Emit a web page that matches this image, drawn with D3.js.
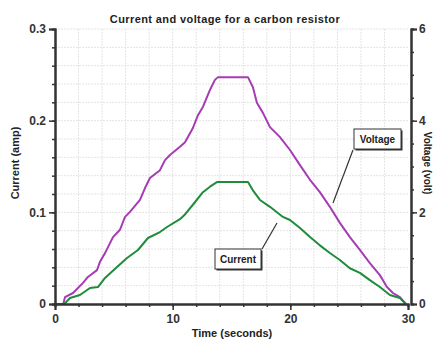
<!DOCTYPE html>
<html><head><meta charset="utf-8">
<script src="https://cdn.jsdelivr.net/npm/d3@7"></script>
<style>
body{margin:0;background:#fff;}
svg{display:block;font-family:"Liberation Sans",Arial,sans-serif;}
</style></head>
<body><svg id="c" width="435" height="339"></svg>
<script>
const title = "Current and voltage for a carbon resistor";
const xLabel = "Time (seconds)";
const yLabel = "Current (amp)";
const y2Label = "Voltage (volt)";
const xTicks = [0, 10, 20, 30];
const yTicks = [0, 0.1, 0.2, 0.3];
const y2Ticks = [0, 2, 4, 6];

const voltageT = [0,0.7,0.85,1.53,2.38,2.8,3.57,3.82,4.25,4.93,5.52,5.95,6.37,7.22,7.65,8.07,8.92,9.35,9.77,10.62,11.05,11.72,12.15,12.57,13.17,13.59,13.85,16.4,16.82,17.16,17.67,18.27,19.12,19.97,20.82,21.67,22.51,23.36,24.21,25.06,25.91,26.76,27.61,28.21,28.72,29.31,29.82];
const voltageV = [0,0,0.15,0.24,0.46,0.59,0.74,0.92,1.11,1.46,1.62,1.9,2.01,2.27,2.53,2.75,2.92,3.14,3.25,3.43,3.53,3.84,4.12,4.3,4.67,4.89,4.95,4.95,4.73,4.39,4.17,3.86,3.64,3.36,3.03,2.71,2.44,2.12,1.77,1.46,1.18,0.89,0.63,0.37,0.24,0.15,0];

const currentT = [0.8,1.27,2.12,2.97,3.65,4.25,5.27,6.12,7.05,7.9,8.92,9.52,10.62,11.0,11.89,12.57,13.17,13.76,16.4,16.82,17.42,18.27,19.37,19.97,20.82,21.67,22.51,23.36,24.21,25.06,25.91,26.76,27.61,28.46,29.31,29.82];
const currentI = [0,0.0065,0.0098,0.0175,0.0185,0.0284,0.0404,0.0502,0.0589,0.072,0.0785,0.084,0.0925,0.097,0.111,0.122,0.128,0.133,0.133,0.124,0.1135,0.106,0.095,0.0916,0.083,0.073,0.064,0.0556,0.048,0.039,0.034,0.026,0.0185,0.0098,0.0065,0];

const svg = d3.select("#c");
const L = 55, R = 408, T = 29, B = 304;
const x = d3.scaleLinear().domain([0,30]).range([L,R]);
const y = d3.scaleLinear().domain([0,0.3]).range([B,T]);
const y2 = d3.scaleLinear().domain([0,6]).range([B,T]);

// grid
const g = svg.append("g");
g.selectAll("line.v").data(d3.range(2,30,2)).join("line")
  .attr("x1",d=>x(d)).attr("x2",d=>x(d)).attr("y1",T).attr("y2",B)
  .attr("stroke","#e4e4e4").attr("stroke-width",1).attr("stroke-dasharray","2,1");
g.selectAll("line.h").data(d3.range(0.02,0.301,0.02)).join("line")
  .attr("x1",L).attr("x2",R).attr("y1",d=>y(d)).attr("y2",d=>y(d))
  .attr("stroke","#e4e4e4").attr("stroke-width",1).attr("stroke-dasharray","2,1");

// data lines
const vData = voltageT.map((t,i)=>[t,voltageV[i]]);
const cData = currentT.map((t,i)=>[t,currentI[i]]);
svg.append("path").datum(vData)
  .attr("d", d3.line().x(d=>x(d[0])).y(d=>y2(d[1])))
  .attr("fill","none").attr("stroke","#a63cb4").attr("stroke-width",2).attr("stroke-linejoin","round");
svg.append("path").datum(cData)
  .attr("d", d3.line().x(d=>x(d[0])).y(d=>y(d[1])))
  .attr("fill","none").attr("stroke","#1f8c3c").attr("stroke-width",2).attr("stroke-linejoin","round");

const axCol = "#333";
// left axis
const la = svg.append("g").attr("transform",`translate(${L},0)`);
la.call(d3.axisLeft(y).tickValues(d3.range(0,0.301,0.02)).tickSize(3).tickFormat(""));
la.append("g").call(d3.axisLeft(y).tickValues(yTicks).tickSize(6).tickFormat(d=>d===0?"0":d3.format(".1f")(d)));
la.selectAll(".domain").attr("stroke",axCol).attr("stroke-width",2);
la.selectAll("line").attr("stroke",axCol).attr("stroke-width",1.5);
la.selectAll("text").attr("font-size",12).attr("font-weight","bold").attr("fill","#333").attr("font-family","Liberation Sans, Arial, sans-serif");

// bottom axis
const ba = svg.append("g").attr("transform",`translate(0,${B})`);
ba.call(d3.axisBottom(x).tickValues(d3.range(0,31,2)).tickSize(3).tickFormat(""));
ba.append("g").call(d3.axisBottom(x).tickValues(xTicks).tickSize(6).tickPadding(4).tickFormat(d3.format("d")));
ba.selectAll(".domain").attr("stroke",axCol).attr("stroke-width",2);
ba.selectAll("line").attr("stroke",axCol).attr("stroke-width",1.5);
ba.selectAll("text").attr("font-size",12).attr("font-weight","bold").attr("fill","#333").attr("font-family","Liberation Sans, Arial, sans-serif");

// right axis
const ra = svg.append("g").attr("transform",`translate(${R+3},0)`);
ra.call(d3.axisRight(y2).tickValues(d3.range(0,6.01,0.5)).tickSize(3).tickFormat(""));
ra.append("g").call(d3.axisRight(y2).tickValues(y2Ticks).tickSize(6).tickPadding(2).tickFormat(d3.format("d")));
ra.selectAll(".domain").attr("stroke",axCol).attr("stroke-width",2);
ra.selectAll("line").attr("stroke",axCol).attr("stroke-width",1.5);
ra.selectAll("text").attr("font-size",12).attr("font-weight","bold").attr("fill","#333").attr("font-family","Liberation Sans, Arial, sans-serif");

// titles
svg.append("text").attr("x",225).attr("y",23).attr("text-anchor","middle")
  .attr("font-size",11).attr("letter-spacing",0.4).attr("font-weight","bold").attr("fill","#222").text(title);
svg.append("text").attr("x",232).attr("y",337).attr("text-anchor","middle")
  .attr("font-size",11).attr("font-weight","bold").attr("fill","#222").text(xLabel);
svg.append("text").attr("transform","translate(19,163) rotate(-90)").attr("text-anchor","middle")
  .attr("font-size",11).attr("font-weight","bold").attr("fill","#222").text(yLabel);
svg.append("text").attr("transform","translate(424,163) rotate(90)").attr("text-anchor","middle")
  .attr("font-size",10).attr("font-weight","bold").attr("fill","#222").text(y2Label);

// annotations
function note(bx, by, w, h, label, lx1, ly1, lx2, ly2){
  svg.append("line").attr("x1",lx1).attr("y1",ly1).attr("x2",lx2).attr("y2",ly2)
    .attr("stroke","#333").attr("stroke-width",1.2);
  svg.append("rect").attr("x",bx+1.5).attr("y",by+1.5).attr("width",w).attr("height",h).attr("fill","#333");
  svg.append("rect").attr("x",bx).attr("y",by).attr("width",w).attr("height",h)
    .attr("fill","#fff").attr("stroke","#333").attr("stroke-width",1);
  svg.append("text").attr("x",bx+w/2).attr("y",by+h/2+3.5).attr("text-anchor","middle")
    .attr("font-size",10).attr("font-weight","bold").attr("fill","#222").text(label);
}
note(354,129,47,20,"Voltage",353,150,333,203);
note(215,249,46,20,"Current",262,249,277,223);
</script></body></html>
